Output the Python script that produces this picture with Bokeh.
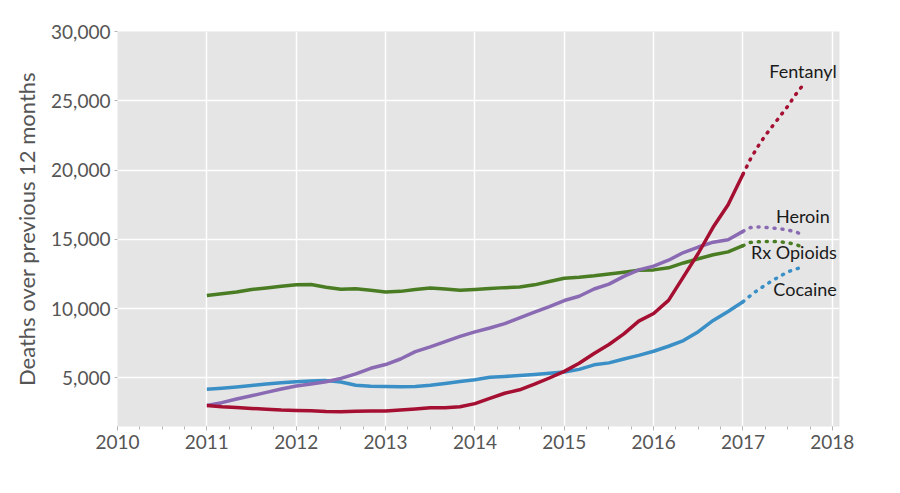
from bokeh.plotting import figure
from bokeh.models import Range1d, NumeralTickFormatter, SingleIntervalTicker, FixedTicker
from bokeh.embed import file_html
from bokeh.resources import INLINE
from bokeh.core.properties import value

# ---- data ----
months = ["2011-01", "2011-03", "2011-05", "2011-07", "2011-09", "2011-11",
          "2012-01", "2012-03", "2012-05", "2012-07", "2012-09", "2012-11",
          "2013-01", "2013-03", "2013-05", "2013-07", "2013-09", "2013-11",
          "2014-01", "2014-03", "2014-05", "2014-07", "2014-09", "2014-11",
          "2015-01", "2015-03", "2015-05", "2015-07", "2015-09", "2015-11",
          "2016-01", "2016-03", "2016-05", "2016-07", "2016-09", "2016-11",
          "2017-01"]

fentanyl = [3020, 2930, 2870, 2800, 2750, 2690, 2660, 2630, 2580, 2560, 2600, 2620,
            2620, 2690, 2760, 2850, 2850, 2930, 3150, 3530, 3900, 4150, 4550, 5000,
            5480, 6060, 6770, 7420, 8180, 9100, 9650, 10600, 12300, 14000, 15890, 17500,
            19700]
heroin = [3020, 3220, 3480, 3720, 3960, 4200, 4420, 4570, 4730, 4970, 5300, 5700,
          5970, 6370, 6900, 7250, 7630, 8000, 8330, 8610, 8920, 9330, 9750, 10150,
          10590, 10900, 11420, 11770, 12330, 12800, 13070, 13500, 14050, 14450, 14800, 14980,
          15580]
rx_opioids = [10950, 11080, 11200, 11380, 11500, 11620, 11730, 11740, 11550, 11400, 11440, 11330,
              11200, 11250, 11380, 11490, 11420, 11330, 11380, 11450, 11520, 11560, 11720, 11960,
              12200, 12270, 12370, 12500, 12630, 12780, 12800, 12950, 13300, 13600, 13890, 14100,
              14550]
cocaine = [4180, 4260, 4350, 4460, 4560, 4650, 4730, 4790, 4810, 4710, 4480, 4400,
           4380, 4370, 4390, 4470, 4600, 4750, 4880, 5050, 5110, 5180, 5250, 5340,
           5430, 5620, 5950, 6090, 6370, 6630, 6930, 7290, 7700, 8340, 9150, 9800,
           10500]

# provisional (dotted) part
months_prov = ["2017-01", "2017-02", "2017-03", "2017-04", "2017-05",
               "2017-06", "2017-07", "2017-08", "2017-09"]
fentanyl_prov = [19700, 20800, 21700, 22500, 23200, 23900, 24600, 25400, 26100]
heroin_prov = [15580, 15850, 15900, 15870, 15820, 15760, 15680, 15550, 15350]
rx_prov = [14550, 14780, 14820, 14850, 14850, 14820, 14760, 14650, 14450]
cocaine_prov = [10500, 10950, 11350, 11700, 12050, 12350, 12650, 12850, 13000]

series_names = ["Fentanyl", "Heroin", "Rx Opioids", "Cocaine"]
label_x = [2018.05, 2017.97, 2018.05, 2018.05]
label_y = [27150, 16700, 14080, 11400]

y_ticks = [5000, 10000, 15000, 20000, 25000, 30000]


def to_year(m):
    y, mo = m.split("-")
    return int(y) + (int(mo) - 1) / 12.0


t = [to_year(m) for m in months]
tp = [to_year(m) for m in months_prov]

colors = {"Fentanyl": "#a50f32", "Heroin": "#8a6bb3", "Rx Opioids": "#4a7d23", "Cocaine": "#3a8fc6"}
solid = {"Fentanyl": fentanyl, "Heroin": heroin, "Rx Opioids": rx_opioids, "Cocaine": cocaine}
dotted = {"Fentanyl": fentanyl_prov, "Heroin": heroin_prov, "Rx Opioids": rx_prov, "Cocaine": cocaine_prov}

FONT = "Lato"

p = figure(frame_width=722, frame_height=395, output_backend="svg", toolbar_location=None,
           x_range=Range1d(2010, 2018.08), y_range=Range1d(1500, 30000),
           min_border_left=117, min_border_right=40, min_border_top=31, min_border_bottom=50)
p.background_fill_color = "#e5e5e5"
p.border_fill_color = "white"
p.outline_line_color = None

for name in ["Rx Opioids", "Cocaine", "Heroin", "Fentanyl"]:
    p.line(t, solid[name], line_color=colors[name], line_width=3.5, line_join="round")
    p.line(tp, dotted[name], line_color=colors[name], line_width=3.5,
           line_dash="1 7", line_cap="round")

p.text(x=label_x, y=label_y, text=series_names, text_align="right", text_baseline="middle",
       text_font=value(FONT), text_font_size="18px", text_color="#1a1a1a")

# grid
p.xgrid.grid_line_color = "white"
p.ygrid.grid_line_color = "white"
p.xgrid.grid_line_width = 1.5
p.ygrid.grid_line_width = 1.5

# x axis
xa = p.xaxis[0]
xa.ticker = SingleIntervalTicker(interval=1, num_minor_ticks=4)
xa.axis_line_color = None
xa.major_tick_line_color = "#b5b5b5"
xa.minor_tick_line_color = "#b5b5b5"
xa.major_tick_in = 0
xa.major_tick_out = 4
xa.minor_tick_in = 0
xa.minor_tick_out = 3
xa.major_label_text_font = FONT
xa.major_label_text_font_size = "19px"
xa.major_label_text_color = "#555555"
xa.major_label_standoff = 4

# y axis
ya = p.yaxis[0]
ya.ticker = FixedTicker(ticks=y_ticks)
ya.formatter = NumeralTickFormatter(format="0,0")
ya.axis_line_color = None
ya.major_tick_line_color = "#b5b5b5"
ya.major_tick_in = 0
ya.major_tick_out = 3
ya.minor_tick_line_color = None
ya.major_label_text_font = FONT
ya.major_label_text_font_size = "19px"
ya.major_label_text_color = "#555555"
ya.major_label_standoff = 4
ya.axis_label = "Deaths over previous 12 months"
ya.axis_label_text_font = FONT
ya.axis_label_text_font_size = "22px"
ya.axis_label_text_font_style = "normal"
ya.axis_label_text_color = "#555555"
ya.axis_label_standoff = 8

open("out.html", "w").write(file_html(p, INLINE))
